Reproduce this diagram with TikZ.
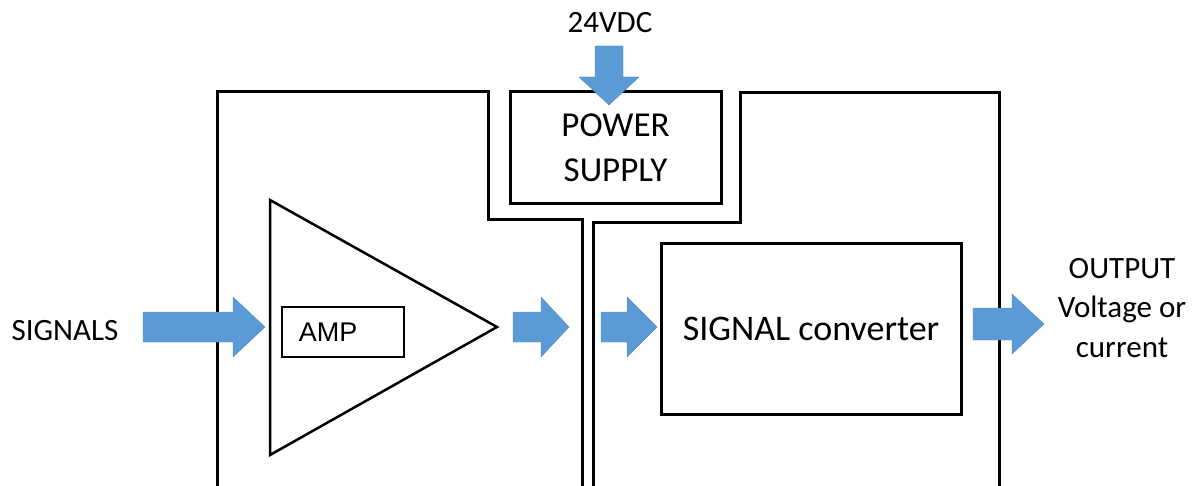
\documentclass[tikz,border=0pt]{standalone}
\usepackage{fontspec}
\setmainfont{Carlito}
\newfontfamily\arialfont{Liberation Sans}
\usetikzlibrary{positioning}
\definecolor{arrowblue}{HTML}{5B9BD5}
\tikzset{
    housing/.style={draw, line width=3pt, line join=miter},
    blockbox/.style={draw, line width=3pt, inner sep=0pt, align=center},
    txt/.style={inner sep=0pt, align=center, font=\fontsize{31}{39.5}\selectfont},
    blockarrow/.style={fill=arrowblue, draw=arrowblue!90!black, line width=0.4pt},
}
\begin{document}
\begin{tikzpicture}[x=1pt, y=-1pt]
    \useasboundingbox (0,0) rectangle (1196,486);

    % Housings
    \draw[housing] (217,490) -- (217,92) -- (488,92) -- (488,220) -- (582,220) -- (582,490);
    \draw[housing] (593,490) -- (593,223) -- (740,223) -- (740,93) -- (999,93) -- (999,490);

    % Power supply
    \node[blockbox, minimum width=211pt, minimum height=112pt,
          font=\fontsize{35}{45}\selectfont] (power) at (615.5,148) {POWER\\SUPPLY};
    \node[txt, anchor=base] (supply) at (610,33) {24VDC};

    % Amplifier
    \draw[line width=2.5pt, line join=miter] (270,200) -- (270,455) -- (497,327) -- cycle;
    \node[draw, line width=1.5pt, anchor=north west, minimum height=50pt,
          inner xsep=17pt, inner ysep=0pt, text width=88pt, align=left,
          font=\arialfont\fontsize{27}{30}\selectfont] (amp) at (281,306) {AMP};

    % Converter
    \node[blockbox, minimum width=300pt, minimum height=170pt,
          font=\fontsize{36}{40}\selectfont] (conv) at (811,329) {SIGNAL converter};

    % Labels
    \node[txt, anchor=base] (signals) at (65,340) {SIGNALS};
    \node[txt, anchor=base] (output) at (1122,357) {OUTPUT\\Voltage or\\current};

    % Block arrows
    \filldraw[blockarrow] (143,312) -- (233,312) -- (233,297) -- (265,327)
        -- (233,357) -- (233,342) -- (143,342) -- cycle;
    \filldraw[blockarrow] (513,312) -- (541,312) -- (541,297) -- (569,327)
        -- (541,357) -- (541,342) -- (513,342) -- cycle;
    \filldraw[blockarrow] (601,312) -- (627,312) -- (627,297) -- (657,327)
        -- (627,357) -- (627,342) -- (601,342) -- cycle;
    \filldraw[blockarrow] (973,308) -- (1012,308) -- (1012,294) -- (1044,324)
        -- (1012,354) -- (1012,340) -- (973,340) -- cycle;
    \filldraw[blockarrow] (595,46) -- (623,46) -- (623,77) -- (639,77) -- (609,105)
        -- (579,77) -- (595,77) -- cycle;
\end{tikzpicture}
\end{document}
